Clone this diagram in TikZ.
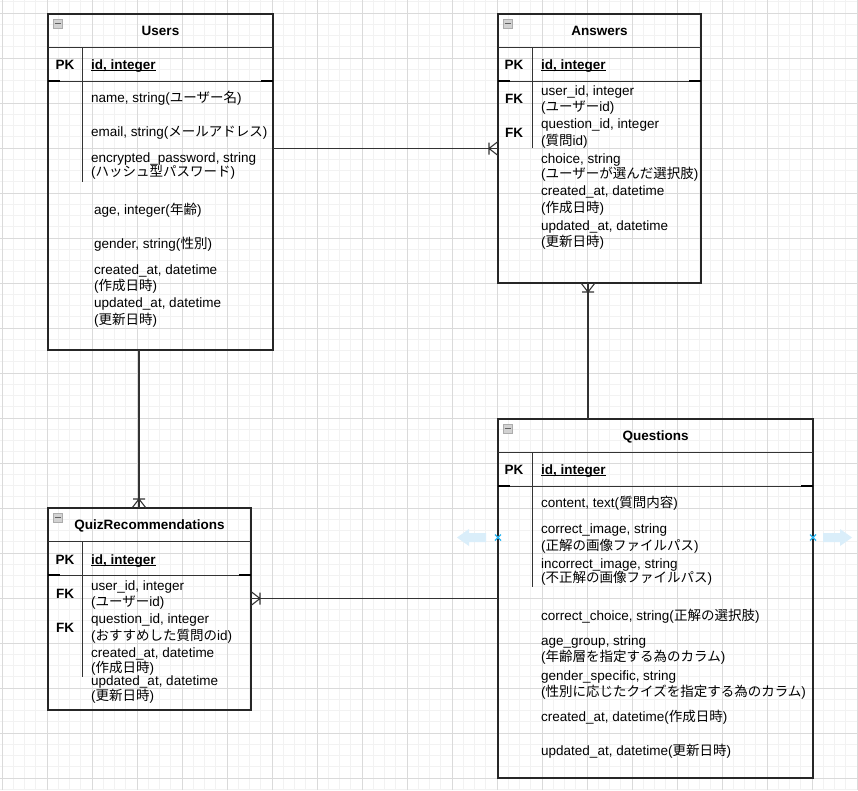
\documentclass[tikz,border=0pt]{standalone}
\usepackage{fontspec}
\setmainfont{Liberation Sans}
\newfontfamily\jp{Noto Sans CJK JP}
\newcommand\J[1]{{\jp #1}}
\usetikzlibrary{calc}
\definecolor{minorgrid}{RGB}{242,242,242}
\definecolor{majorgrid}{RGB}{218,218,218}
\definecolor{hoverblue}{RGB}{218,238,250}
\definecolor{markblue}{RGB}{41,182,242}
\newcommand\tabledeco[2]{%
  \draw[sep] ($(#1.north west)+(0,33)$) -- ($(#1.north east)+(0,33)$);
  \draw[sep] ($(#1.north west)+(0,67)$) -- ($(#1.north east)+(0,67)$);
  \draw[sepend] ($(#1.north west)+(0,67)$) -- ++(12,0);
  \draw[sepend] ($(#1.north east)+(0,67)$) -- ++(-12,0);
  \draw[sep] ($(#1.north west)+(34,33)$) -- ($(#1.north west)+(34,#2)$);
  \draw[fill=gray!35, draw=gray!65, line width=0.6pt] ($(#1.north west)+(5,5)$) rectangle ++(9,9);
  \draw[draw=gray!75!black, line width=1.4pt] ($(#1.north west)+(6.5,9.5)$) -- ++(6,0);
}
\begin{document}
\begin{tikzpicture}[x=1pt,y=-1pt,
  tbl/.style={draw=black!85, line width=1.1pt, anchor=north west, inner sep=0pt, outer sep=0pt},
  sep/.style={draw=black!80, line width=0.9pt},
  sepend/.style={draw=black, line width=2.2pt},
  txt/.style={anchor=base west, inner sep=0pt, font=\fontsize{13.5}{16}\selectfont},
  ttl/.style={anchor=base, inner sep=0pt, font=\fontsize{13.5}{16}\selectfont\bfseries},
  key/.style={anchor=base, inner sep=0pt, font=\fontsize{13.5}{16}\selectfont\bfseries},
  pkf/.style={anchor=base west, inner sep=0pt, font=\fontsize{13.5}{16}\selectfont\bfseries},
  uline/.style={draw=black, line width=1pt},
  conn/.style={draw=black!80, line width=1.1pt},
  ]
\useasboundingbox (0,0) rectangle (858,790);
\fill[white] (0,0) rectangle (858,790);
% grid
\foreach \k in {0,...,76} { \draw[minorgrid, line width=0.8pt] ({2+11.25*\k},0) -- ({2+11.25*\k},790); }
\foreach \k in {-1,...,69} { \draw[minorgrid, line width=0.8pt] (0,{13+11.25*\k}) -- (858,{13+11.25*\k}); }
\foreach \k in {0,...,19} { \draw[majorgrid, line width=0.8pt] ({2+45*\k},0) -- ({2+45*\k},790); }
\foreach \k in {0,...,17} { \draw[majorgrid, line width=0.8pt] (0,{13+45*\k}) -- (858,{13+45*\k}); }

% tables
\node[tbl, minimum width=225pt, minimum height=336pt] (users) at (48,14) {};
\node[tbl, minimum width=203pt, minimum height=269pt] (answers) at (498,14) {};
\node[tbl, minimum width=315pt, minimum height=359pt] (questions) at (498,419) {};
\node[tbl, minimum width=203pt, minimum height=202pt] (qr) at (48,508) {};
\tabledeco{users}{168}
\tabledeco{answers}{134}
\tabledeco{questions}{168}
\tabledeco{qr}{169}

% Users
\node[ttl] (uT) at ($(users.north)+(0,21)$) {Users};
\node[key] (uPK) at (65,69) {PK};
\node[pkf] (uId) at (91,69) {id, integer};
\draw[uline] ([yshift=-1.5pt]uId.base west) -- ([yshift=-1.5pt]uId.base east);
\node[txt] (u1) at (91,102) {name, string(\J{ユーザー名})};
\node[txt] (u2) at (91,136) {email, string(\J{メールアドレス})};
\node[txt] (u3) at (91,162) {encrypted\_password, string};
\node[txt] (u3b) at (91,176) {(\J{ハッシュ型パスワード})};
\node[txt] (u4) at (94,214) {age, integer(\J{年齢})};
\node[txt] (u5) at (94,248) {gender, string(\J{性別})};
\node[txt] (u6) at (94,274) {created\_at, datetime};
\node[txt] (u6b) at (94,290) {(\J{作成日時})};
\node[txt] (u7) at (94,307) {updated\_at, datetime};
\node[txt] (u7b) at (94,324) {(\J{更新日時})};

% Answers
\node[ttl] (aT) at ($(answers.north)+(0,21)$) {Answers};
\node[key] (aPK) at (514,69) {PK};
\node[pkf] (aId) at (541,69) {id, integer};
\draw[uline] ([yshift=-1.5pt]aId.base west) -- ([yshift=-1.5pt]aId.base east);
\node[key] (aFK1) at (514,103) {FK};
\node[key] (aFK2) at (514,137) {FK};
\node[txt] (a1) at (541,95) {user\_id, integer};
\node[txt] (a1b) at (541,111) {(\J{ユーザー}id)};
\node[txt] (a2) at (541,128) {question\_id, integer};
\node[txt] (a2b) at (541,145) {(\J{質問}id)};
\node[txt] (a3) at (541,163) {choice, string};
\node[txt] (a3b) at (541,178) {(\J{ユーザーが選んだ選択肢})};
\node[txt] (a4) at (541,195) {created\_at, datetime};
\node[txt] (a4b) at (541,212) {(\J{作成日時})};
\node[txt] (a5) at (541,230) {updated\_at, datetime};
\node[txt] (a5b) at (541,246) {(\J{更新日時})};

% Questions
\node[ttl] (qT) at ($(questions.north)+(0,21)$) {Questions};
\node[key] (qPK) at (514,474) {PK};
\node[pkf] (qId) at (541,474) {id, integer};
\draw[uline] ([yshift=-1.5pt]qId.base west) -- ([yshift=-1.5pt]qId.base east);
\node[txt] (q1) at (541,507) {content, text(\J{質問内容})};
\node[txt] (q2) at (541,533) {correct\_image, string};
\node[txt] (q2b) at (541,550) {(\J{正解の画像ファイルパス})};
\node[txt] (q3) at (541,568) {incorrect\_image, string};
\node[txt] (q3b) at (541,582) {(\J{不正解の画像ファイルパス})};
\node[txt] (q4) at (541,620) {correct\_choice, string(\J{正解の選択肢})};
\node[txt] (q5) at (541,645) {age\_group, string};
\node[txt] (q5b) at (541,661) {(\J{年齢層を指定する為のカラム})};
\node[txt] (q6) at (541,680) {gender\_specific, string};
\node[txt] (q6b) at (541,696) {(\J{性別に応じたクイズを指定する為のカラム})};
\node[txt] (q7) at (541,721) {created\_at, datetime(\J{作成日時})};
\node[txt] (q8) at (541,755) {updated\_at, datetime(\J{更新日時})};

% QuizRecommendations
\node[ttl] (rT) at ($(qr.north)+(0,21)$) {QuizRecommendations};
\node[key] (rPK) at (65,564) {PK};
\node[pkf] (rId) at (91,564) {id, integer};
\draw[uline] ([yshift=-1.5pt]rId.base west) -- ([yshift=-1.5pt]rId.base east);
\node[key] (rFK1) at (65,598) {FK};
\node[key] (rFK2) at (65,632) {FK};
\node[txt] (r1) at (91,590) {user\_id, integer};
\node[txt] (r1b) at (91,606) {(\J{ユーザー}id)};
\node[txt] (r2) at (91,623) {question\_id, integer};
\node[txt] (r2b) at (91,640) {(\J{おすすめした質問の}id)};
\node[txt] (r3) at (91,657) {created\_at, datetime};
\node[txt] (r3b) at (91,672) {(\J{作成日時})};
\node[txt] (r4) at (91,685) {updated\_at, datetime};
\node[txt] (r4b) at (91,700) {(\J{更新日時})};

% connectors
% Users -> Answers
\coordinate (cA) at (answers.west);
\draw[conn] (users.east |- answers.west) -- (cA);
\draw[conn] ($(cA)+(-9,0)$) -- ($(cA)+(0,-7)$) ($(cA)+(-9,0)$) -- ($(cA)+(0,7)$) ($(cA)+(-9,-6)$) -- ($(cA)+(-9,6)$);
% Questions -> Answers
\coordinate (aS) at ($(answers.south)+(-11.5,0)$);
\draw[conn] (aS) -- (aS |- questions.north);
\draw[conn] ($(aS)+(0,9)$) -- ($(aS)+(-7,0)$) ($(aS)+(0,9)$) -- ($(aS)+(7,0)$) ($(aS)+(-6,9)$) -- ($(aS)+(6,9)$);
% Users -> QuizRecommendations
\coordinate (uS) at ($(users.south)+(-21.5,0)$);
\coordinate (rN) at (uS |- qr.north);
\draw[conn] (uS) -- (rN);
\draw[conn] ($(rN)+(0,-9)$) -- ($(rN)+(-7,0)$) ($(rN)+(0,-9)$) -- ($(rN)+(7,0)$) ($(rN)+(-6,-9)$) -- ($(rN)+(6,-9)$);
% Questions -> QuizRecommendations
\coordinate (rE) at (questions.west -| qr.east);
\draw[conn] (questions.west) -- (rE);
\draw[conn] ($(rE)+(9,0)$) -- ($(rE)+(0,-7)$) ($(rE)+(9,0)$) -- ($(rE)+(0,7)$) ($(rE)+(9,-6)$) -- ($(rE)+(9,6)$);

% hover arrows and markers
\fill[hoverblue] (486,533) -- (469,533) -- (469,529) -- (457,537.5) -- (469,546) -- (469,542) -- (486,542) -- cycle;
\fill[hoverblue] (823,533) -- (840,533) -- (840,529) -- (852,537.5) -- (840,546) -- (840,542) -- (823,542) -- cycle;
\draw[markblue, line width=1.3pt] (495,534.5) -- (501,540.5) (495,540.5) -- (501,534.5);
\draw[markblue, line width=1.3pt] (810,534.5) -- (816,540.5) (810,540.5) -- (816,534.5);
\end{tikzpicture}
\end{document}
